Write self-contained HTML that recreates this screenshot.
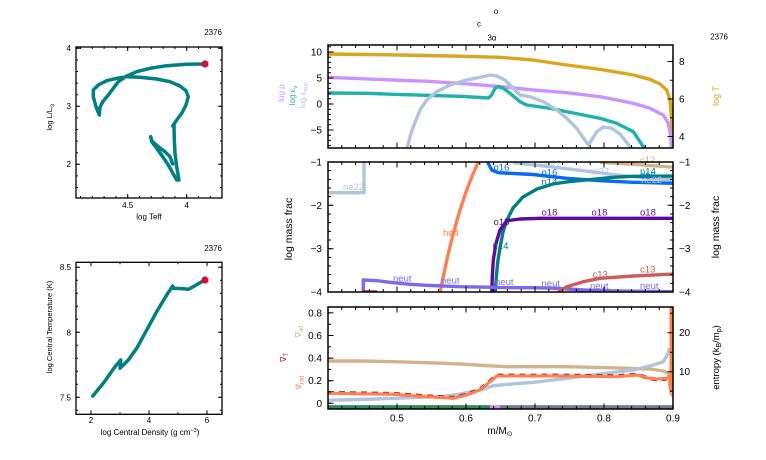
<!DOCTYPE html>
<html><head><meta charset="utf-8"><style>
html,body{margin:0;padding:0;background:#fff;}
svg{display:block;font-family:"Liberation Sans","DejaVu Sans",sans-serif;}
</style></head><body>
<svg width="766" height="460" viewBox="0 0 766 460" xmlns="http://www.w3.org/2000/svg">
<rect width="766" height="460" fill="#fff"/>
<defs>
<clipPath id="cT"><rect x="328" y="45" width="345" height="103"/></clipPath>
<clipPath id="cM"><rect x="328" y="162" width="345" height="130"/></clipPath>
<clipPath id="cB"><rect x="328" y="307" width="345" height="102"/></clipPath>
</defs>

<!-- ============ HR diagram ============ -->
<text x="222" y="35" font-size="8" text-anchor="end">2376</text>
<g fill="none" stroke="#000">
<rect x="76" y="47" width="146" height="151" stroke-width="1.3"/>
<path d="M77 47.8V198M221 47.8V198" stroke-width="2" stroke-dasharray="1 10.6"/>
<path d="M80 197H222M80 48H222" stroke-width="2" stroke-dasharray="1 10.8"/>
<path d="M76 48.3h4M76 106.3h4M76 164.3h4M222 48.3h-4M222 106.3h-4M222 164.3h-4M127.7 198v-4M186.7 198v-4M127.7 47v4M186.7 47v4" stroke-width="1"/>
</g>
<g font-size="8" text-anchor="end">
<text x="71" y="51">4</text><text x="71" y="109">3</text><text x="71" y="167">2</text>
</g>
<g font-size="8" text-anchor="middle">
<text x="127.7" y="208">4.5</text><text x="186.7" y="208">4</text>
<text x="149" y="219.5">log Teff</text>
</g>
<text transform="translate(52,117) rotate(-90)" font-size="7.5" text-anchor="middle">log L/L<tspan font-size="5.5" dy="2">⊙</tspan></text>
<path d="M205,64 L186.7,64.3 L166.7,65.7 L150,68.3 L136.7,71.7 L126.7,76 L118.3,81.7 L113.3,88.3 L108.3,95 L102.7,101.7 L100,107.3 L99.3,115 L96,106.7 L93.3,96.7 L93.3,90 L98.3,85 L106.7,80.7 L116.7,78.3 L126.7,76.7 L140,77.3 L156.7,79 L170,81.7 L180,86 L186,90.7 L188.3,96.7 L186,105 L181.7,113.3 L176.7,120 L172.7,126 L174,125 L174.3,140 L175,153.3 L176.7,166.7 L179,180 L176.7,180 L173.3,174 L168.3,165 L162.7,156.7 L156.7,148.3 L151.7,141.7 L150.7,136.7 L152,141 L158.3,146.7 L165,151.7 L170,156.7 L172.7,164" fill="none" stroke="#008080" stroke-width="3.5" stroke-linejoin="round" stroke-linecap="round"/>
<circle cx="205" cy="64" r="3.6" fill="#d0103c"/>

<!-- ============ Central T-rho ============ -->
<text x="222" y="251" font-size="8" text-anchor="end">2376</text>
<g fill="none" stroke="#000">
<rect x="76" y="262.3" width="146" height="152" stroke-width="1.3"/>
<path d="M77 266.8V414M221 266.8V414" stroke-width="2" stroke-dasharray="1 12"/>
<path d="M90.5 413.3H222M90.5 263.3H222" stroke-width="2" stroke-dasharray="1 28"/>
<path d="M76 267.3h4M76 332.3h4M76 397.3h4M222 267.3h-4M222 332.3h-4M222 397.3h-4M91 414.3v-4M149 414.3v-4M207 414.3v-4M91 262.3v4M149 262.3v4M207 262.3v4" stroke-width="1"/>
</g>
<g font-size="8" text-anchor="end">
<text x="71" y="270">8.5</text><text x="71" y="335.3">8</text><text x="71" y="400.5">7.5</text>
</g>
<g font-size="8" text-anchor="middle">
<text x="91" y="423">2</text><text x="149" y="423">4</text><text x="207" y="423">6</text>
<text x="150" y="435">log Central Density (g cm<tspan font-size="5.5" dy="-3">−3</tspan><tspan dy="3">)</tspan></text>
</g>
<text transform="translate(52,327) rotate(-90)" font-size="7.5" text-anchor="middle">log Central Temperature (K)</text>
<path d="M92.7,396 L103.3,383.3 L115,366.7 L120.7,360 L120,368.3 L128.3,360 L136.7,348.3 L146.7,330 L156.7,311.7 L166.7,295 L172.7,286 L173.3,288.3 L183.3,288.7 L188.3,289.3 L193.3,286.7 L200,282.7 L205,280" fill="none" stroke="#008080" stroke-width="3.5" stroke-linejoin="round" stroke-linecap="round"/>
<circle cx="205" cy="280" r="3.6" fill="#d0103c"/>

<!-- ============ Titles ============ -->
<g font-size="8" text-anchor="middle">
<text x="496" y="14">o</text>
<text x="479" y="26.5">c</text>
<text x="492" y="40.5">3α</text>
</g>
<text x="728" y="39.5" font-size="8" text-anchor="end">2376</text>

<!-- ============ Top right panel ============ -->
<g clip-path="url(#cT)" fill="none" stroke-width="3.4" stroke-linejoin="round">
<path stroke="#daa520" d="M328,54 L400,55 L450,56 L500,57.3 L533,60 L566.7,65 L600,69.3 L633.3,75 L650,79.3 L660,84 L666.7,90 L670,100 L671.7,120 L672.7,150"/>
<path stroke="#c994ff" d="M328,77.3 L360,78.7 L393,80 L426.7,81.3 L460,83.3 L493.3,86 L508,87.3 L533,90 L566.7,92.7 L600,96.7 L633.3,103.3 L650,108.3 L663.3,115 L668.3,123.3 L670.7,136.7 L671.7,150"/>
<path stroke="#20b2aa" d="M328,93 L366.7,93.3 L393.3,94.3 L426.7,95.3 L460,96.3 L488.3,98 L491.7,95 L495,88.3 L498.3,86.7 L503.3,88.3 L510,93.3 L520,101.7 L526.7,105 L550,108.3 L566.7,111.7 L583.3,115 L600,118.3 L616.7,123.3 L633.3,131.7 L643.3,146.7 L645,150"/>
<path stroke="#b0c4de" d="M406.7,150 L410,137 L413.3,126.7 L420,110 L426.7,100 L436.7,91.7 L450,85 L466.7,80 L480,77.3 L490,75 L496.7,76 L505,80 L510,85 L520,95 L530,96.7 L543.3,101.7 L556.7,110 L566.7,118.3 L576.7,128.3 L588.3,145 L591.7,140 L596.7,131.7 L603.3,127 L611.7,128.3 L620,134 L630,146.7 L632,150"/>
</g>
<g fill="none" stroke="#000">
<rect x="328" y="45" width="345" height="103" stroke-width="1.5"/>
<path d="M327.5 46.5H674M327.5 146.5H674" stroke-width="3" stroke-dasharray="1 12.8"/>
<path d="M329.5 46.3V148" stroke-width="3" stroke-dasharray="1 4.2"/>
<path d="M397 45v5.5M466 45v5.5M535 45v5.5M604 45v5.5M397 148v-5.5M466 148v-5.5M535 148v-5.5M604 148v-5.5M328 52h5.5M328 78h5.5M328 104h5.5M328 130h5.5M673 61.5h-5.5M673 80.25h-3M673 99h-5.5M673 117.75h-3M673 136.5h-5.5" stroke-width="1"/>
</g>
<g font-size="10" text-anchor="end">
<text x="322" y="55.5">10</text><text x="322" y="81.5">5</text><text x="322" y="107.5">0</text><text x="322" y="133.5">−5</text>
</g>
<g font-size="10">
<text x="679" y="65">8</text><text x="679" y="102.5">6</text><text x="679" y="140">4</text>
</g>
<text transform="translate(284,93) rotate(-90)" font-size="8" text-anchor="middle" fill="#c994ff">log ρ</text>
<text transform="translate(295,95.5) rotate(-90)" font-size="8" text-anchor="middle" fill="#20b2aa">log ε<tspan font-size="6" dy="2">ν</tspan></text>
<text transform="translate(305.5,95) rotate(-90)" font-size="8" text-anchor="middle" fill="#b0c4de">log ε<tspan font-size="6" dy="2">nuc</tspan></text>
<text transform="translate(719,96) rotate(-90)" font-size="9" text-anchor="middle" fill="#daa520">log T</text>

<!-- ============ Middle panel ============ -->
<g clip-path="url(#cM)" fill="none" stroke-width="3.4" stroke-linejoin="round">
<path stroke="#b0c4de" d="M326,192.7 L364,192.7 L364,158 M513,162.7 L550,166.7 L583,170.7 L616.7,175 L650,178.3 L675,180"/>
<path stroke="#d2b48c" d="M600,162.3 L633.3,164.3 L675,167.3"/>
<path stroke="#0a6af0" d="M485.5,158 L491.7,170 L498.3,172.7 L523.3,174 L533,174.5 L566.7,178.3 L600,180.7 L633.3,182.3 L675,183.3"/>
<path stroke="#008080" d="M495,295 L496.5,275 L498,260 L500,248 L503,232 L507,220 L513,208 L523,197 L537,189 L553,184 L570,181.5 L593,179.3 L613,177.3 L633,176.3 L675,176"/>
<path stroke="#5f0a9e" d="M491.7,295 L492.3,276.7 L493.3,260 L496,243.3 L500,230 L506.7,220.7 L520,219 L540,218.3 L675,218.3"/>
<path stroke="#ff7f50" d="M439.5,295 L443.3,276.7 L448.3,253.3 L453.3,233.3 L460,210 L466.7,190 L473.3,173.3 L480,158"/>
<path stroke="#7b68ee" d="M363.3,295 L363.3,280 L376.7,280.7 L393.3,282.7 L410,284.3 L426.7,285.3 L460,286.7 L493.3,287.3 L510,287.7 L533.3,287.7 L556.7,288.3 L583.3,290 L616.7,291 L675,291.7"/>
<path stroke="#b22222" d="M363,292 L377,292"/>
<path stroke="#cd5c5c" d="M554,295 L566.7,286.7 L583.3,281.7 L600,278.3 L633.3,276 L675,274"/>
</g>
<g font-size="9.5">
<g fill="#b0c4de"><text x="343" y="190">ne22</text><text x="540" y="167">ne22</text><text x="588" y="174.5">ne22</text><text x="641" y="183">ne22</text></g>
<g fill="#0a6af0"><text x="493.5" y="170.5">o16</text><text x="541.5" y="175.5">o16</text><text x="640" y="178.5">o16</text></g>
<g fill="#008080"><text x="492.5" y="249">n14</text><text x="541.5" y="185">n14</text><text x="640" y="174.5">n14</text></g>
<g fill="#5f0a9e"><text x="493.5" y="225">o18</text><text x="541.5" y="215.7">o18</text><text x="591.5" y="215.7">o18</text><text x="640" y="215.7">o18</text></g>
<g fill="#7b68ee"><text x="393" y="281.7">neut</text><text x="441" y="283.3">neut</text><text x="495" y="285">neut</text><text x="541.5" y="286.7">neut</text><text x="590" y="289">neut</text><text x="640" y="289">neut</text></g>
<g fill="#cd5c5c"><text x="592.5" y="277.7">c13</text><text x="640" y="272.7">c13</text></g>
<text x="443" y="236" fill="#ff7f50">he4</text>
<text x="640" y="163" fill="#d2b48c">c12</text>
</g>
<g fill="none" stroke="#000">
<rect x="328" y="162" width="345" height="130" stroke-width="1.5"/>
<path d="M327.5 163.5H674M327.5 290.5H674" stroke-width="3" stroke-dasharray="1 12.8"/>
<path d="M329.5 161.5V292M671.5 161.5V292" stroke-width="3" stroke-dasharray="1 7.667"/>
<path d="M397 162v5.5M466 162v5.5M535 162v5.5M604 162v5.5M397 292v-5.5M466 292v-5.5M535 292v-5.5M604 292v-5.5M328 205.3h5.5M328 248.7h5.5M673 205.3h-5.5M673 248.7h-5.5" stroke-width="1"/>
</g>
<g font-size="10" text-anchor="end">
<text x="322" y="165.5">−1</text><text x="322" y="208.8">−2</text><text x="322" y="252.2">−3</text><text x="322" y="295.5">−4</text>
</g>
<g font-size="10">
<text x="679" y="165.5">−1</text><text x="679" y="208.8">−2</text><text x="679" y="252.2">−3</text><text x="679" y="295.5">−4</text>
</g>
<text transform="translate(292,229) rotate(-90)" font-size="10.5" text-anchor="middle">log mass frac</text>
<text transform="translate(719,227) rotate(-90)" font-size="10.5" text-anchor="middle">log mass frac</text>

<!-- ============ Bottom panel ============ -->
<g clip-path="url(#cB)" fill="none" stroke-width="3.4" stroke-linejoin="round">
<path stroke="#2e8b57" d="M326,406.8 L490,406.8"/>
<path stroke="#c994ff" d="M490,406.8 L500,406.8"/>
<path stroke="#708090" d="M500,406.8 L675,406.8"/>
<path stroke="#d2b48c" d="M328,361 L360,361 L393.3,361.7 L426.7,362.7 L460,364 L493.3,366 L508,366.7 L566.7,366.7 L606.7,367.7 L650,369 L663.3,371 L668.3,373.3 L670.7,391.7 L671.7,395 L672.7,378"/>
<path stroke="#b0c4de" d="M328,400.3 L376.7,399 L410,397.7 L443.3,396.3 L460,394 L480,390 L493.3,385.7 L508.3,384.3 L533.3,382.3 L566.7,378.3 L600,374 L633.3,370 L653.3,365 L663.3,361.7 L668.3,353.3 L669.3,348.3"/>
<path stroke="#b22222" stroke-width="3.8" stroke-dasharray="6 5" d="M328,392.8 L393.3,393.8 L426.7,396.2 L453.3,397.8 L466.7,394.5 L480,389.5 L490,381.2 L496.7,375.5 L508.3,375.5 L566.7,375.5 L616.7,376.2 L636.7,374.5 L646.7,377.7 L656.7,379.5 L666.7,378.8"/>
<path stroke="#ff7f50" stroke-width="3" d="M328,393.3 L393.3,394.3 L426.7,396.7 L453.3,398.3 L466.7,395 L480,390 L490,381.7 L496.7,376 L508.3,376 L566.7,376 L616.7,376.7 L636.7,375 L646.7,377.7 L656.7,379 L666.7,378.3 L670,376 L671,390 L671,305"/>
</g>
<g fill="none" stroke="#000">
<rect x="328" y="307" width="345" height="102" stroke-width="1.5"/>
<path d="M327.5 308.5H674M327.5 407.5H674" stroke-width="3" stroke-dasharray="1 12.8"/>
<path d="M329.5 312.4V404" stroke-width="3" stroke-dasharray="1 10.3"/>
<path d="M397 307v5.5M466 307v5.5M535 307v5.5M604 307v5.5M397 409v-5.5M466 409v-5.5M535 409v-5.5M604 409v-5.5M328 312.9h5.5M328 335.5h5.5M328 358.1h5.5M328 380.7h5.5M328 403.3h5.5M673 313.2h-3M673 332.7h-5.5M673 352.2h-3M673 371.7h-5.5M673 391.2h-3" stroke-width="1"/>
</g>
<g font-size="10" text-anchor="end">
<text x="322" y="316.4">0.8</text><text x="322" y="339">0.6</text><text x="322" y="361.6">0.4</text><text x="322" y="384.2">0.2</text><text x="322" y="406.8">0</text>
</g>
<g font-size="10">
<text x="679" y="336.2">20</text><text x="679" y="375.2">10</text>
</g>
<g font-size="10" text-anchor="middle">
<text x="397" y="421.5">0.5</text><text x="466" y="421.5">0.6</text><text x="535" y="421.5">0.7</text><text x="604" y="421.5">0.8</text><text x="673" y="421.5">0.9</text>
<text x="500" y="434">m/M<tspan font-size="7" dy="2">⊙</tspan></text>
</g>
<text transform="translate(301,331.5) rotate(-90)" font-size="8" text-anchor="middle" fill="#d2b48c">∇<tspan font-size="6" dy="2">ad</tspan></text>
<text transform="translate(286,357.5) rotate(-90)" font-size="8" text-anchor="middle" fill="#b22222">∇<tspan font-size="6" dy="2">T</tspan></text>
<text transform="translate(301.5,382.5) rotate(-90)" font-size="8" text-anchor="middle" fill="#ff7f50">∇<tspan font-size="6" dy="2">rad</tspan></text>
<text transform="translate(719,357.5) rotate(-90)" font-size="9.5" text-anchor="middle">entropy (k<tspan font-size="7" dy="2">B</tspan><tspan dy="-2">/m</tspan><tspan font-size="7" dy="2">p</tspan><tspan dy="-2">)</tspan></text>
</svg>
</body></html>
